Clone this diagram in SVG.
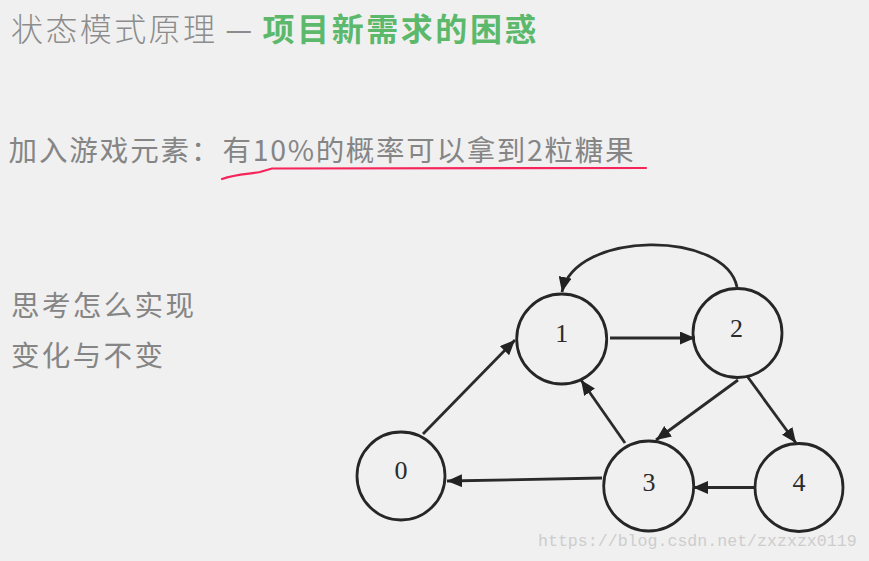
<svg xmlns="http://www.w3.org/2000/svg" width="869" height="561" viewBox="0 0 869 561">
<style>
.cjk{font-family:"Noto Sans CJK SC","Noto Sans",sans-serif;}
.gray{fill:#858585;}
.node circle{fill:none;stroke:#262626;stroke-width:2.8;}
.node text{font-family:"Liberation Serif","DejaVu Serif",serif;font-size:26px;fill:#2a2a2a;text-anchor:middle;}
.edges path{fill:none;stroke:#2a2a2a;stroke-width:2.8;marker-end:url(#arr);}
</style>
<defs>
<marker id="arr" markerUnits="userSpaceOnUse" markerWidth="15" markerHeight="13" refX="15" refY="6.5" orient="auto">
<path d="M0,0 L15,6.5 L0,13 z" fill="#222"/>
</marker>
</defs>
<rect x="0" y="0" width="869" height="561" fill="#f0f0f0"/>
<g id="title" class="cjk">
<text x="11" y="40.5" font-size="32" font-weight="300" fill="#8c8c8c" textLength="204" lengthAdjust="spacing">状态模式原理</text>
<text x="226.7" y="40" font-family="Liberation Sans,sans-serif" font-size="30" fill="#8c8c8c" textLength="24" lengthAdjust="spacingAndGlyphs">—</text>
<text x="262.5" y="40.5" font-size="32" font-weight="bold" fill="#5cb96c" textLength="274" lengthAdjust="spacing">项目新需求的困惑</text>
</g>
<g id="line2" class="cjk gray" font-size="28.5">
<text x="8.5" y="161" textLength="211" lengthAdjust="spacing">加入游戏元素：</text>
<text x="222.5" y="161" textLength="411" lengthAdjust="spacing">有10%的概率可以拿到2粒糖果</text>
<path d="M222,179 C236,174 250,174 260,172 L272,168.5 L646,168" fill="none" stroke="#f5245a" stroke-width="2.2" stroke-linecap="round"/>
</g>
<g id="line3" class="cjk gray" font-size="28.5">
<text x="11" y="315.5" textLength="183" lengthAdjust="spacing">思考怎么实现</text>
<text x="11" y="365.5" textLength="152" lengthAdjust="spacing">变化与不变</text>
</g>
<g class="edges" id="connectors">
<path d="M423,434 L515,340"/>
<path d="M610,338 L695,338"/>
<path d="M737,287 C725,230 575,230 562,292"/>
<path d="M625,443 L581,380"/>
<path d="M738,380 L656,440"/>
<path d="M747,376 L796,443"/>
<path d="M602,478 L447,481"/>
<path d="M755,487.5 L693,487.5"/>
</g>
<g id="node0" class="node"><circle cx="401" cy="476" r="44"/><text x="401" y="479">0</text></g>
<g id="node1" class="node"><circle cx="561.7" cy="339" r="45"/><text x="561.7" y="341.5">1</text></g>
<g id="node2" class="node"><circle cx="737.5" cy="333" r="44.5"/><text x="736.5" y="337">2</text></g>
<g id="node3" class="node"><circle cx="648.7" cy="486" r="45"/><text x="649" y="490.5">3</text></g>
<g id="node4" class="node"><circle cx="799" cy="487.5" r="44"/><text x="799" y="490.5">4</text></g>
<text x="538" y="546" font-family="Liberation Mono,monospace" font-size="16.6" fill="#cdcdcd">https://blog.csdn.net/zxzxzx0119</text>
</svg>
